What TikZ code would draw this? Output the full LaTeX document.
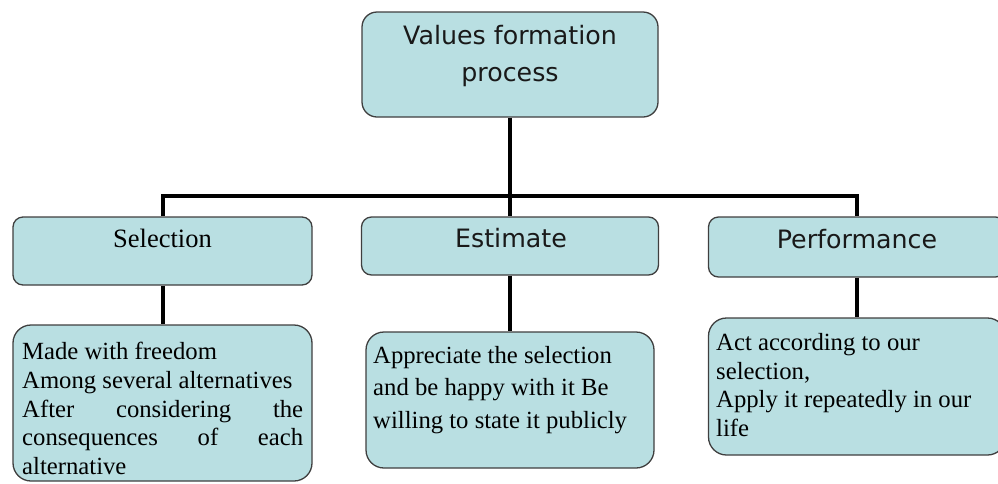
\documentclass[tikz,border=0pt]{standalone}
\usepackage{fontspec}
\setmainfont{Liberation Serif}
\newfontfamily\vsans{DejaVu Sans}
\definecolor{boxfill}{HTML}{B9DFE2}
\definecolor{boxline}{HTML}{3F3F3F}
\begin{document}
\begin{tikzpicture}[x=1pt,y=-1pt,
  box/.style={draw=boxline, line width=1.3pt, fill=boxfill, inner sep=0pt},
  link/.style={line width=4pt, black},
  headtxt/.style={inner sep=0pt, font={\vsans\fontsize{25.3}{37}\selectfont}, text=black!90},
  bodytxt/.style={inner sep=0pt, align=left, font={\fontsize{24.7}{28.7}\selectfont}, text=black}]
\useasboundingbox (0,0) rectangle (998,483);
% boxes
\node[box, rounded corners=15pt, minimum width=296pt, minimum height=105pt] (top) at (510,64.5) {};
\node[box, rounded corners=10pt, minimum width=299pt, minimum height=68pt] (sel) at (162.5,251) {};
\node[box, rounded corners=10pt, minimum width=297pt, minimum height=58pt] (est) at (510,246) {};
\node[box, rounded corners=10pt, minimum width=297pt, minimum height=60pt] (perf) at (857,247) {};
\node[box, rounded corners=18pt, minimum width=299pt, minimum height=156pt] (seld) at (162.5,403) {};
\node[box, rounded corners=18pt, minimum width=288pt, minimum height=136pt] (estd) at (510,400) {};
\node[box, rounded corners=18pt, minimum width=297pt, minimum height=137pt] (perfd) at (857,386.5) {};
% connectors
\draw[link] (top.south) -- (est.north);
\draw[link] (sel.north) -- ++(0,-20) -| (perf.north);
\draw[link] (sel.south) -- (seld.north);
\draw[link] (est.south) -- (estd.north);
\draw[link] (perf.south) -- (perfd.north);
% texts
\node[headtxt, align=center, anchor=north] (ttop) at (510,25.5) {Values formation\\process};
\node[inner sep=0pt, anchor=base, font={\fontsize{26.5}{30}\selectfont}, text=black] (tsel) at (162.5,247) {Selection};
\node[headtxt, anchor=base] (test) at (511,247) {Estimate};
\node[headtxt, anchor=base] (tperf) at (857,248) {Performance};
\node[bodytxt, anchor=north west] (tseld) at (22,342) {Made with freedom\\Among several alternatives\\\makebox[281pt][s]{After considering the}\\\makebox[281pt][s]{consequences of each}\\alternative};
\node[bodytxt, anchor=north west, font={\fontsize{24.7}{32.5}\selectfont}] (testd) at (373,346) {Appreciate the selection\\and be happy with it Be\\willing to state it publicly};
\node[bodytxt, anchor=north west] (tperfd) at (716,333) {Act according to our\\selection,\\Apply it repeatedly in our\\life};
\end{tikzpicture}
\end{document}
